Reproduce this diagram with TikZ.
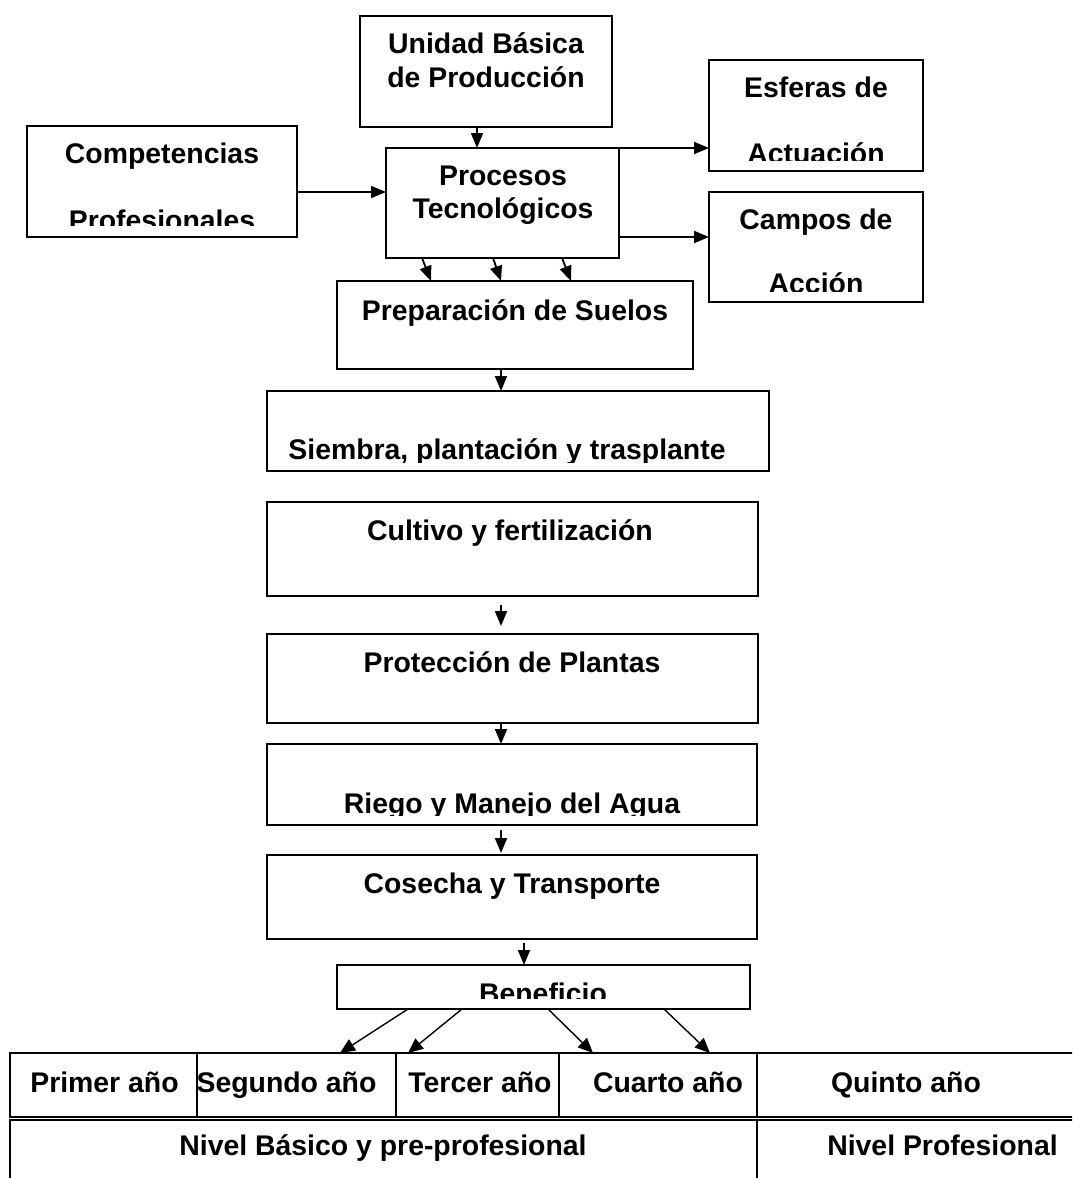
\documentclass[tikz,border=0pt]{standalone}
\usepackage{fontspec}
\setmainfont{Liberation Sans}
\usetikzlibrary{arrows.meta,calc}
\begin{document}
\begin{tikzpicture}[x=1pt,y=-1pt,
  box/.style={draw, line width=1.8pt, rectangle, inner sep=0pt, outer sep=0pt, anchor=north west},
  cell/.style={draw, line width=1.5pt, rectangle, inner sep=0pt, outer sep=0pt, anchor=north west},
  lbl/.style={font={\fontsize{28.4}{34}\selectfont\bfseries}, inner sep=0pt, anchor=base},
  arr/.style={line width=1.8pt, -{Triangle[length=15pt,width=12pt]}},
  arrthin/.style={line width=1.4pt, -{Triangle[length=15pt,width=13pt]}}]
\clip (0,0) rectangle (1072,1178);
\fill[white] (0,0) rectangle (1072,1178);

% boxes
\node[box, minimum width=252, minimum height=111] (unidad) at (360,16) {};
\node[box, minimum width=270, minimum height=111] (comp) at (27,126) {};
\node[box, minimum width=233, minimum height=110] (proc) at (386,148) {};
\node[box, minimum width=214, minimum height=111] (esf) at (709,60) {};
\node[box, minimum width=214, minimum height=110] (campos) at (709,192) {};
\node[box, minimum width=356, minimum height=88] (prep) at (337,281) {};
\node[box, minimum width=502, minimum height=80] (siem) at (267,391) {};
\node[box, minimum width=491, minimum height=94] (cult) at (267,502) {};
\node[box, minimum width=491, minimum height=89] (prot) at (267,634) {};
\node[box, minimum width=490, minimum height=81] (riego) at (267,744) {};
\node[box, minimum width=490, minimum height=84] (cos) at (267,855) {};
\node[box, minimum width=413, minimum height=44] (ben) at (337,965) {};

% table
\node[cell, minimum width=187, minimum height=64] (c1) at (10,1053) {};
\node[cell, minimum width=199, minimum height=64] (c2) at (197,1053) {};
\node[cell, minimum width=163, minimum height=64] (c3) at (396,1053) {};
\node[cell, minimum width=198, minimum height=64] (c4) at (559,1053) {};
\node[cell, minimum width=343, minimum height=64] (c5) at (757,1053) {};
\node[cell, minimum width=747, minimum height=80] (n1) at (10,1120) {};
\node[cell, minimum width=343, minimum height=80] (n2) at (757,1120) {};

% texts
\node[lbl] (unidadA) at (486,53) {Unidad Básica};
\node[lbl] (unidadB) at (486,87) {de Producción};
\node[lbl] (compA) at (162,163) {Competencias};
\begin{scope}
  \clip (27,126) rectangle (297,225);
  \node[lbl] (compB) at (162,230) {Profesionales};
\end{scope}
\node[lbl] (procA) at (503,185) {Procesos};
\node[lbl] (procB) at (503,218) {Tecnológicos};
\node[lbl] (esfA) at (816,97) {Esferas de};
\begin{scope}
  \clip (709,60) rectangle (923,160);
  \node[lbl] (esfB) at (816,163) {Actuación};
\end{scope}
\node[lbl] (camposA) at (816,229) {Campos de};
\begin{scope}
  \clip (709,192) rectangle (923,291);
  \node[lbl] (camposB) at (816,293) {Acción};
\end{scope}
\node[lbl] (prepA) at (515,320) {Preparación de Suelos};
\begin{scope}
  \clip (267,391) rectangle (769,462);
  \node[lbl] (siemA) at (507,459) {Siembra, plantación y trasplante};
\end{scope}
\node[lbl] (cultA) at (510,540) {Cultivo y fertilización};
\node[lbl] (protA) at (512,672) {Protección de Plantas};
\begin{scope}
  \clip (267,744) rectangle (757,815);
  \node[lbl] (riegoA) at (512,813) {Riego y Manejo del Agua};
\end{scope}
\node[lbl] (cosA) at (512,893) {Cosecha y Transporte};
\begin{scope}
  \clip (337,965) rectangle (750,998);
  \node[lbl] (benA) at (543,1003) {Beneficio};
\end{scope}

\node[lbl] (t1) at (104.5,1092) {Primer año};
\node[lbl] (t2) at (286.5,1092) {Segundo año};
\node[lbl] (t3) at (480,1092) {Tercer año};
\node[lbl] (t4) at (668,1092) {Cuarto año};
\node[lbl] (t5) at (906,1092) {Quinto año};
\node[lbl] (t6) at (383,1155) {Nivel Básico y pre-profesional};
\node[lbl] (t7) at (942.5,1155) {Nivel Profesional};

% connectors
\draw[arr] ([xshift=-9pt]unidad.south) -- ([xshift=-9pt]unidad.south |- proc.north);
\coordinate (ca) at ([yshift=-10.5pt]comp.east);
\draw[arr] (ca) -- (ca -| proc.west);
\draw[arr] (proc.north east) -- (proc.north east -| esf.west);
\coordinate (cb) at ([yshift=-34pt]proc.east);
\draw[arr] (cb) -- (cb -| campos.west);
\draw[arr] ([xshift=-80.5pt]proc.south) -- ([xshift=-84pt]prep.north);
\draw[arr] ([xshift=-9.5pt]proc.south) -- ([xshift=-14pt]prep.north);
\draw[arr] ([xshift=59.5pt]proc.south) -- ([xshift=56pt]prep.north);
\draw[arr] ([xshift=-14pt]prep.south) -- ([xshift=-14pt]prep.south |- siem.north);
\draw[arr, shorten <=9pt, shorten >=8pt] ([xshift=-11.5pt]cult.south) -- ([xshift=-11.5pt]cult.south |- prot.north);
\draw[arr] ([xshift=-11.5pt]prot.south) -- ([xshift=-11.5pt]prot.south |- riego.north);
\draw[arr, shorten <=5pt, shorten >=2pt] ([xshift=-11pt]riego.south) -- ([xshift=-11pt]riego.south |- cos.north);
\draw[arr, shorten <=4pt] ([xshift=12pt]cos.south) -- ([xshift=12pt]cos.south |- ben.north);
\draw[arrthin] ([xshift=-135.5pt]ben.south) -- ([xshift=43.5pt]c2.north);
\draw[arrthin] ([xshift=-81.5pt]ben.south) -- ([xshift=-69.5pt]c3.north);
\draw[arrthin] ([xshift=4.5pt]ben.south) -- ([xshift=-65pt]c4.north);
\draw[arrthin] ([xshift=120.5pt]ben.south) -- ([xshift=52pt]c4.north);
\end{tikzpicture}
\end{document}
